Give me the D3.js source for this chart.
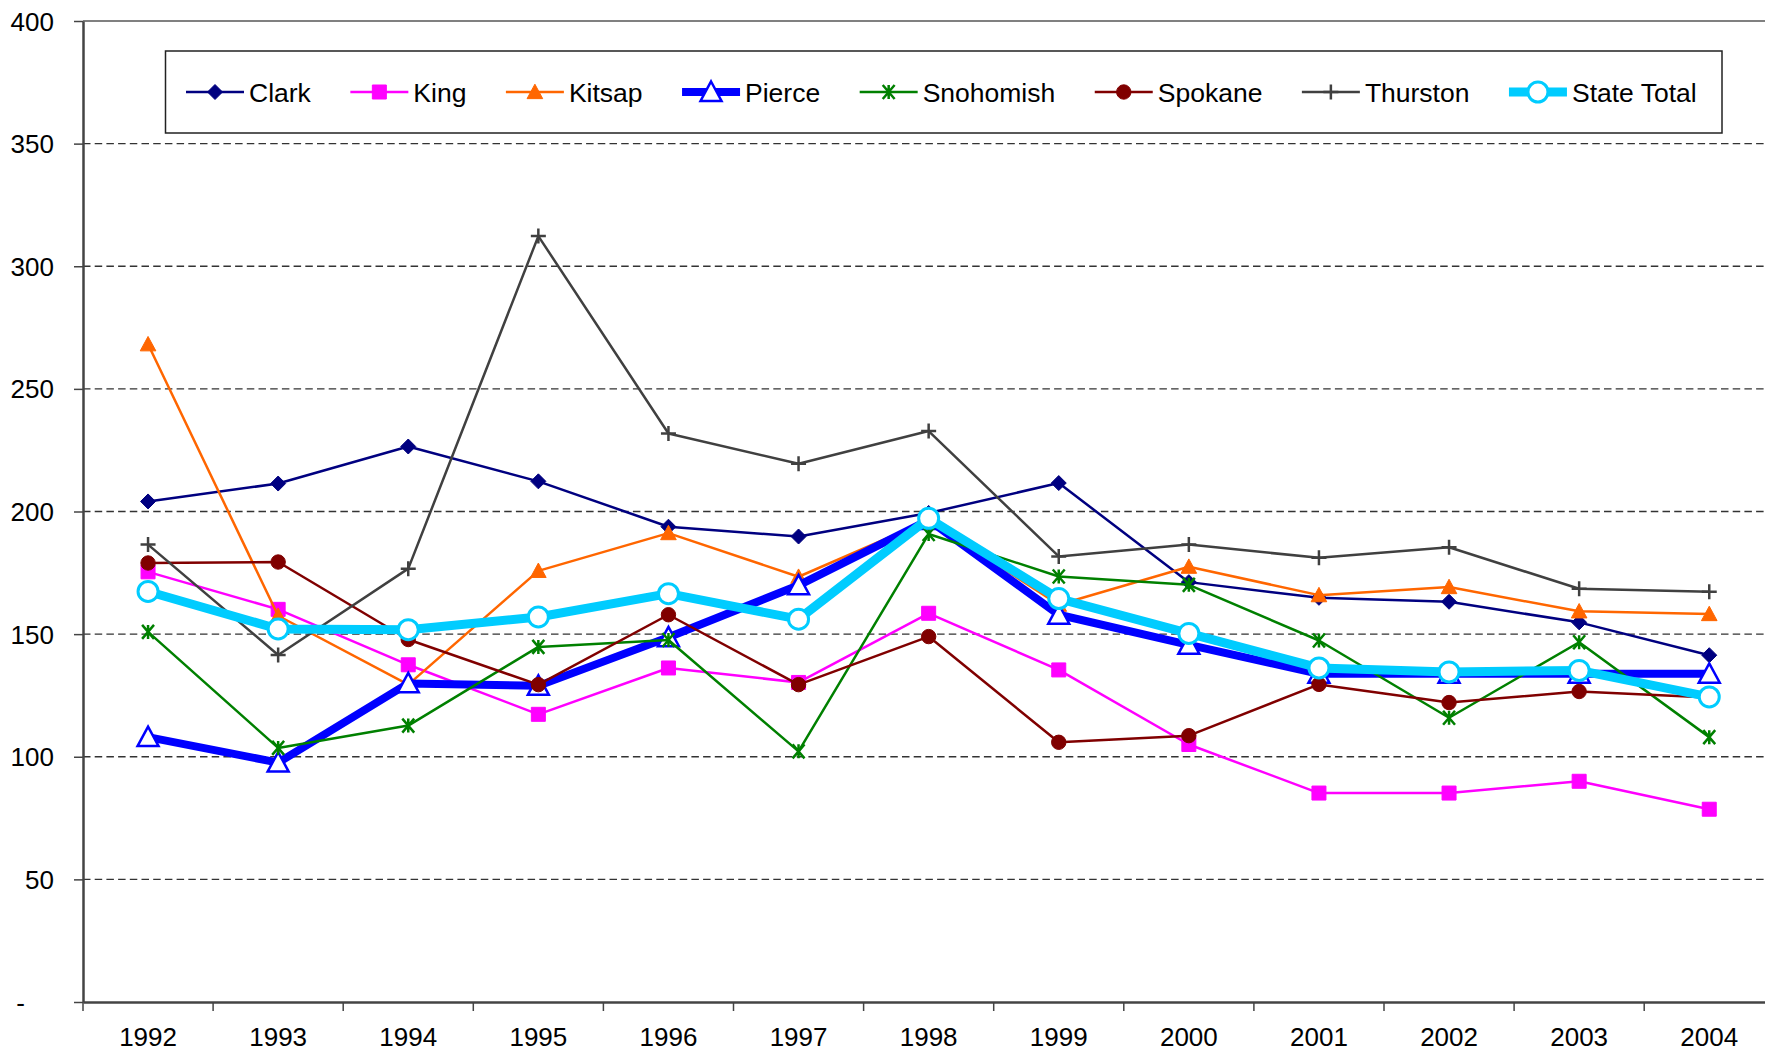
<!DOCTYPE html>
<html>
<head>
<meta charset="utf-8">
<script src="https://cdn.jsdelivr.net/npm/d3@7"></script>
<style>
  html, body { margin: 0; padding: 0; background: #fff; overflow: hidden; }
  svg { display: block; font-family: "Liberation Sans", Arial, sans-serif; }
</style>
</head>
<body>
<svg id="chart" width="1765" height="1051"></svg>
<script>
const years = ["1992","1993","1994","1995","1996","1997","1998","1999","2000","2001","2002","2003","2004"];
const yTicks = [0, 50, 100, 150, 200, 250, 300, 350, 400];

const clark     = [204.1, 211.4, 226.5, 212.3, 193.8, 189.8, 199.4, 211.6, 171.2, 164.8, 163.2, 154.8, 141.4];
const king      = [175.4, 160.1, 137.5, 117.3, 136.2, 130.3, 158.5, 135.4, 105.0, 85.2, 85.2, 90.0, 78.6];
const kitsap    = [268.2, 157.5, 129.4, 175.8, 191.2, 173.4, 196.5, 162.0, 177.5, 165.9, 169.2, 159.3, 158.2];
const pierce    = [108.0, 97.6, 129.9, 128.9, 148.7, 169.9, 196.5, 157.9, 145.6, 133.8, 133.8, 133.8, 133.8];
const snohomish = [150.9, 103.6, 112.7, 144.8, 147.6, 102.2, 190.8, 173.5, 170.1, 147.4, 115.9, 146.7, 108.0];
const spokane   = [179.0, 179.4, 147.8, 129.4, 157.9, 129.4, 149.0, 105.9, 108.6, 129.5, 122.1, 126.6, 124.2];
const thurston  = [186.5, 141.5, 176.7, 312.3, 231.8, 219.5, 232.8, 181.7, 186.5, 181.1, 185.4, 168.5, 167.3];
const stateTotal= [167.4, 152.1, 151.8, 157.0, 166.5, 156.1, 197.2, 164.5, 150.3, 136.2, 134.6, 135.2, 124.4];

const seriesNames = ["Clark","King","Kitsap","Pierce","Snohomish","Spokane","Thurston","State Total"];
const seriesValues = [clark, king, kitsap, pierce, snohomish, spokane, thurston, stateTotal];

// styles
const styles = {
  "Clark":       {color:"#000080", width:2.5, marker:"diamond",  fill:"#000080", mstroke:"#000080", msw:1, size:7.5},
  "King":        {color:"#FF00FF", width:2.5, marker:"square",   fill:"#FF00FF", mstroke:"#FF00FF", msw:1, size:7},
  "Kitsap":      {color:"#FF6600", width:2.5, marker:"triangle", fill:"#FF6600", mstroke:"#FF6600", msw:1, size:7.8},
  "Pierce":      {color:"#0000FF", width:8,   marker:"triangle", fill:"#FFFFFF", mstroke:"#0000FF", msw:2.5, size:10.5},
  "Snohomish":   {color:"#008000", width:2.5, marker:"asterisk", fill:"none",    mstroke:"#008000", msw:2.5, size:7},
  "Spokane":     {color:"#800000", width:2.5, marker:"circle",   fill:"#800000", mstroke:"#800000", msw:1, size:7.2},
  "Thurston":    {color:"#404040", width:2.5, marker:"plus",     fill:"none",    mstroke:"#404040", msw:2.5, size:7.5},
  "State Total": {color:"#00CCFF", width:9,   marker:"circle",   fill:"#FFFFFF", mstroke:"#00CCFF", msw:3, size:10}
};

function markerPath(type, r) {
  switch (type) {
    case "diamond": return `M0,${-r}L${r},0L0,${r}L${-r},0Z`;
    case "square": return `M${-r},${-r}H${r}V${r}H${-r}Z`;
    case "triangle": return `M0,${-r}L${r},${r*0.85}L${-r},${r*0.85}Z`;
    case "circle": return `M${r},0A${r},${r},0,1,1,${-r},0A${r},${r},0,1,1,${r},0Z`;
    case "plus": return `M${-r},0H${r}M0,${-r}V${r}`;
    case "asterisk": return `M${-r*0.85},${-r}L${r*0.85},${r}M${r*0.85},${-r}L${-r*0.85},${r}M0,${-r}V${r}`;
  }
}

const svg = d3.select("#chart");
const mLeft = 83, mTop = 21, mBottom = 1002, mRight = 83 + 13 * 130.1;

const x = d3.scaleBand().domain(years).range([mLeft, mRight]).padding(0);
const y = d3.scaleLinear().domain([0, 400]).range([mBottom, mTop]);

// gridlines
svg.append("g").selectAll("line")
  .data(yTicks.filter(d => d > 0 && d < 400))
  .join("line")
  .attr("x1", mLeft).attr("x2", mRight)
  .attr("y1", d => y(d)).attr("y2", d => y(d))
  .attr("stroke", "#333").attr("stroke-width", 1.4)
  .attr("stroke-dasharray", "7.5,4.2");

// top border
svg.append("line").attr("x1", mLeft).attr("x2", mRight).attr("y1", y(400)).attr("y2", y(400))
  .attr("stroke", "#808080").attr("stroke-width", 2);

// y axis
const yAxis = svg.append("g").attr("transform", `translate(${mLeft},0)`)
  .call(d3.axisLeft(y).tickValues(yTicks).tickSize(9).tickSizeOuter(0)
    .tickFormat(d => d === 0 ? "-" : d3.format("d")(d)));
yAxis.select(".domain").attr("stroke", "#444").attr("stroke-width", 2.5);
yAxis.selectAll(".tick line").attr("stroke", "#444").attr("stroke-width", 1.5);
yAxis.selectAll(".tick text")
  .attr("font-size", 26).attr("fill", "#000")
  .attr("font-family", "'Liberation Sans', Arial, sans-serif")
  .attr("x", d => d === 0 ? -58 : -29)
  .attr("dy", "0.35em");

// x axis
const xAxis = svg.append("g").attr("transform", `translate(0,${mBottom})`)
  .call(d3.axisBottom(x).tickSize(0).tickSizeOuter(0));
xAxis.select(".domain").attr("stroke", "#444").attr("stroke-width", 2.5);
xAxis.selectAll(".tick text")
  .attr("font-size", 26).attr("fill", "#000")
  .attr("font-family", "'Liberation Sans', Arial, sans-serif")
  .attr("y", 43.5).attr("dy", 0);
// band boundary ticks
svg.append("g").selectAll("line")
  .data(years)
  .join("line")
  .attr("x1", d => x(d)).attr("x2", d => x(d))
  .attr("y1", mBottom).attr("y2", mBottom + 9)
  .attr("stroke", "#444").attr("stroke-width", 1.5);

// series
const line = d3.line()
  .x((d, i) => x(years[i]) + x.bandwidth() / 2)
  .y(d => y(d));

seriesNames.forEach((name, si) => {
  const s = styles[name];
  const vals = seriesValues[si];
  const g = svg.append("g");
  g.append("path").datum(vals)
    .attr("d", line)
    .attr("fill", "none")
    .attr("stroke", s.color)
    .attr("stroke-width", s.width)
    .attr("stroke-linejoin", "round");
  g.selectAll("path.m").data(vals).join("path")
    .attr("class", "m")
    .attr("transform", (d, i) => `translate(${x(years[i]) + x.bandwidth() / 2},${y(d)})`)
    .attr("d", markerPath(s.marker, s.size))
    .attr("fill", s.fill)
    .attr("stroke", s.mstroke)
    .attr("stroke-width", s.msw);
});

// legend
const legend = svg.append("g");
legend.append("rect")
  .attr("x", 165.5).attr("y", 51).attr("width", 1722 - 165.5).attr("height", 82)
  .attr("fill", "#fff").attr("stroke", "#222").attr("stroke-width", 1.5);
let lx = 186;
const ly = 92;
seriesNames.forEach(name => {
  const s = styles[name];
  const item = legend.append("g");
  item.append("line").attr("x1", lx).attr("x2", lx + 58).attr("y1", ly).attr("y2", ly)
    .attr("stroke", s.color).attr("stroke-width", s.width);
  item.append("path")
    .attr("transform", `translate(${lx + 29},${ly})`)
    .attr("d", markerPath(s.marker, s.size))
    .attr("fill", s.fill).attr("stroke", s.mstroke).attr("stroke-width", s.msw);
  const t = item.append("text").attr("x", lx + 63).attr("y", ly + 9.5)
    .attr("font-size", 26.5).attr("fill", "#000").text(name);
  lx = lx + 63 + t.node().getComputedTextLength() + 39.5;
});
</script>
</body>
</html>
